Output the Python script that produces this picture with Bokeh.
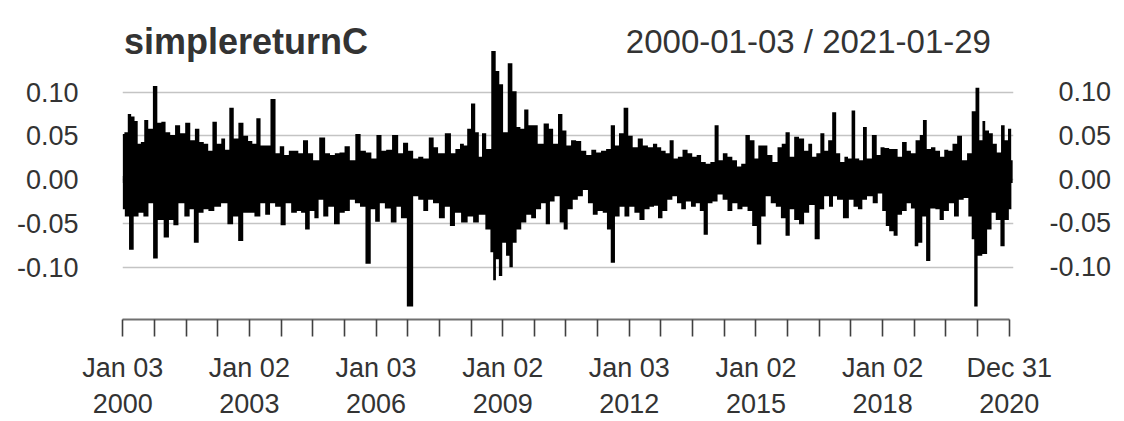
import numpy as np
from bokeh.plotting import figure
from bokeh.models import (Range1d, FixedTicker, PrintfTickFormatter, Label, LinearAxis)
from bokeh.embed import file_html
from bokeh.resources import INLINE

# ---------------- data ----------------
# upper envelope of the daily simple returns (decimal year, value)
up_t = [2000.00, 2000.08, 2000.16, 2000.24, 2000.32, 2000.39, 2000.47, 2000.55, 2000.66, 2000.77,
        2000.87, 2000.96, 2001.07, 2001.18, 2001.30, 2001.42, 2001.54, 2001.66, 2001.76, 2001.87,
        2001.97, 2002.08, 2002.17, 2002.29, 2002.38, 2002.47, 2002.58, 2002.68, 2002.80, 2002.92,
        2003.02, 2003.12, 2003.21, 2003.32, 2003.43, 2003.57, 2003.67, 2003.77, 2003.88, 2003.99,
        2004.11, 2004.21, 2004.33, 2004.45, 2004.57, 2004.74, 2004.85, 2004.97, 2005.08, 2005.19,
        2005.32, 2005.44, 2005.58, 2005.69, 2005.83, 2005.95, 2006.07, 2006.19, 2006.29, 2006.47,
        2006.58, 2006.70, 2006.82, 2006.94, 2007.06, 2007.18, 2007.32, 2007.41, 2007.53, 2007.73,
        2007.82, 2007.94, 2008.04, 2008.12, 2008.20, 2008.30, 2008.40, 2008.47, 2008.55, 2008.67,
        2008.79, 2008.88, 2008.96, 2009.06, 2009.18, 2009.28, 2009.38, 2009.46, 2009.56, 2009.66,
        2009.77, 2009.89, 2010.05, 2010.14, 2010.25, 2010.37, 2010.46, 2010.56, 2010.68, 2010.80,
        2010.92, 2011.04, 2011.16, 2011.27, 2011.39, 2011.51, 2011.61, 2011.71, 2011.80, 2011.93,
        2012.02, 2012.14, 2012.26, 2012.38, 2012.50, 2012.62, 2012.70, 2012.81, 2012.91, 2013.00,
        2013.10, 2013.20, 2013.32, 2013.44, 2013.54, 2013.65, 2013.75, 2013.87, 2013.97, 2014.07,
        2014.16, 2014.27, 2014.38, 2014.50, 2014.60, 2014.70, 2014.80, 2014.91, 2015.02, 2015.09,
        2015.21, 2015.33, 2015.45, 2015.57, 2015.65, 2015.75, 2015.85, 2015.96, 2016.08, 2016.20,
        2016.28, 2016.38, 2016.48, 2016.57, 2016.67, 2016.75, 2016.86, 2016.94, 2017.05, 2017.14,
        2017.22, 2017.31, 2017.39, 2017.50, 2017.57, 2017.68, 2017.81, 2017.91, 2017.99, 2018.10,
        2018.21, 2018.31, 2018.40, 2018.52, 2018.62, 2018.72, 2018.84, 2018.92, 2018.99, 2019.10,
        2019.19, 2019.31, 2019.41, 2019.51, 2019.60, 2019.71, 2019.82, 2019.94, 2020.06, 2020.16,
        2020.24, 2020.34, 2020.39, 2020.47, 2020.57, 2020.65, 2020.76, 2020.85, 2020.93, 2021.01,
        2021.08]
up_v = [0.052, 0.054, 0.075, 0.072, 0.067, 0.041, 0.043, 0.068, 0.058, 0.107,
        0.065, 0.066, 0.054, 0.051, 0.062, 0.053, 0.065, 0.045, 0.058, 0.043,
        0.041, 0.033, 0.066, 0.041, 0.047, 0.034, 0.082, 0.047, 0.065, 0.050,
        0.044, 0.041, 0.070, 0.039, 0.039, 0.092, 0.030, 0.038, 0.028, 0.033,
        0.033, 0.030, 0.045, 0.030, 0.022, 0.048, 0.030, 0.028, 0.030, 0.031,
        0.038, 0.022, 0.052, 0.033, 0.031, 0.024, 0.051, 0.033, 0.034, 0.051,
        0.030, 0.042, 0.033, 0.024, 0.026, 0.024, 0.048, 0.037, 0.030, 0.053,
        0.030, 0.035, 0.041, 0.039, 0.058, 0.087, 0.054, 0.026, 0.053, 0.035,
        0.147, 0.124, 0.109, 0.054, 0.133, 0.101, 0.060, 0.058, 0.080, 0.062,
        0.062, 0.041, 0.064, 0.058, 0.041, 0.075, 0.056, 0.039, 0.045, 0.044,
        0.033, 0.028, 0.034, 0.031, 0.033, 0.035, 0.062, 0.039, 0.053, 0.082,
        0.050, 0.037, 0.047, 0.039, 0.037, 0.041, 0.037, 0.033, 0.030, 0.045,
        0.024, 0.026, 0.034, 0.030, 0.026, 0.028, 0.020, 0.018, 0.020, 0.062,
        0.022, 0.030, 0.026, 0.022, 0.015, 0.018, 0.051, 0.045, 0.024, 0.039,
        0.039, 0.028, 0.020, 0.037, 0.041, 0.054, 0.026, 0.049, 0.047, 0.033,
        0.041, 0.026, 0.030, 0.053, 0.033, 0.045, 0.077, 0.030, 0.020, 0.026,
        0.024, 0.079, 0.024, 0.022, 0.060, 0.024, 0.051, 0.028, 0.037, 0.036,
        0.035, 0.035, 0.026, 0.043, 0.033, 0.030, 0.045, 0.051, 0.068, 0.035,
        0.037, 0.033, 0.026, 0.034, 0.033, 0.041, 0.050, 0.022, 0.030, 0.078,
        0.105, 0.045, 0.067, 0.056, 0.053, 0.041, 0.031, 0.062, 0.045, 0.058,
        0.022]

# lower envelope of the daily simple returns (decimal year, value)
dn_t = [2000.00, 2000.10, 2000.20, 2000.32, 2000.43, 2000.55, 2000.67, 2000.77, 2000.89, 2001.05,
        2001.14, 2001.26, 2001.38, 2001.54, 2001.63, 2001.74, 2001.86, 2001.97, 2002.09, 2002.25,
        2002.41, 2002.55, 2002.68, 2002.79, 2002.92, 2003.04, 2003.20, 2003.32, 2003.43, 2003.55,
        2003.67, 2003.81, 2003.91, 2004.07, 2004.18, 2004.27, 2004.37, 2004.49, 2004.59, 2004.69,
        2004.81, 2004.93, 2005.08, 2005.20, 2005.32, 2005.44, 2005.56, 2005.68, 2005.82, 2005.93,
        2006.03, 2006.15, 2006.27, 2006.43, 2006.54, 2006.64, 2006.82, 2006.94, 2007.06, 2007.18,
        2007.29, 2007.41, 2007.57, 2007.69, 2007.81, 2007.93, 2008.10, 2008.24, 2008.36, 2008.51,
        2008.67, 2008.75, 2008.80, 2008.88, 2008.94, 2009.04, 2009.12, 2009.20, 2009.28, 2009.38,
        2009.50, 2009.62, 2009.73, 2009.85, 2009.97, 2010.07, 2010.17, 2010.29, 2010.41, 2010.48,
        2010.60, 2010.72, 2010.84, 2010.96, 2011.08, 2011.19, 2011.31, 2011.43, 2011.51, 2011.61,
        2011.71, 2011.83, 2011.94, 2012.06, 2012.18, 2012.30, 2012.42, 2012.54, 2012.63, 2012.73,
        2012.84, 2012.96, 2013.08, 2013.18, 2013.28, 2013.40, 2013.52, 2013.63, 2013.71, 2013.81,
        2013.91, 2014.03, 2014.15, 2014.27, 2014.38, 2014.50, 2014.62, 2014.74, 2014.86, 2014.96,
        2015.08, 2015.17, 2015.29, 2015.41, 2015.53, 2015.65, 2015.75, 2015.85, 2015.96, 2016.08,
        2016.20, 2016.32, 2016.46, 2016.56, 2016.67, 2016.79, 2016.86, 2016.98, 2017.14, 2017.26,
        2017.36, 2017.47, 2017.57, 2017.69, 2017.84, 2017.93, 2018.05, 2018.10, 2018.21, 2018.31,
        2018.40, 2018.52, 2018.62, 2018.72, 2018.80, 2018.89, 2018.99, 2019.07, 2019.19, 2019.31,
        2019.39, 2019.51, 2019.63, 2019.75, 2019.86, 2019.98, 2020.08, 2020.14, 2020.20, 2020.30,
        2020.42, 2020.53, 2020.63, 2020.73, 2020.85, 2020.93, 2021.05]
dn_v = [-0.034, -0.042, -0.080, -0.042, -0.038, -0.042, -0.027, -0.090, -0.046, -0.066,
        -0.046, -0.052, -0.027, -0.042, -0.034, -0.072, -0.038, -0.034, -0.036, -0.031,
        -0.027, -0.051, -0.042, -0.070, -0.038, -0.038, -0.042, -0.027, -0.040, -0.027,
        -0.031, -0.052, -0.027, -0.038, -0.036, -0.038, -0.057, -0.036, -0.044, -0.023,
        -0.042, -0.031, -0.051, -0.038, -0.036, -0.023, -0.027, -0.031, -0.096, -0.034,
        -0.048, -0.027, -0.033, -0.049, -0.031, -0.044, -0.145, -0.019, -0.023, -0.036,
        -0.023, -0.027, -0.044, -0.031, -0.053, -0.038, -0.049, -0.042, -0.049, -0.040,
        -0.057, -0.083, -0.115, -0.091, -0.110, -0.072, -0.087, -0.100, -0.072, -0.057,
        -0.049, -0.040, -0.044, -0.034, -0.027, -0.051, -0.025, -0.019, -0.049, -0.057,
        -0.034, -0.023, -0.019, -0.012, -0.027, -0.040, -0.036, -0.038, -0.057, -0.095,
        -0.042, -0.031, -0.042, -0.031, -0.038, -0.046, -0.034, -0.031, -0.030, -0.044,
        -0.036, -0.023, -0.019, -0.027, -0.034, -0.025, -0.031, -0.027, -0.036, -0.063,
        -0.027, -0.025, -0.017, -0.023, -0.036, -0.027, -0.034, -0.031, -0.036, -0.053,
        -0.074, -0.042, -0.019, -0.027, -0.031, -0.044, -0.064, -0.034, -0.046, -0.051,
        -0.038, -0.029, -0.068, -0.034, -0.019, -0.031, -0.019, -0.023, -0.044, -0.023,
        -0.031, -0.034, -0.023, -0.019, -0.027, -0.016, -0.036, -0.053, -0.059, -0.064,
        -0.040, -0.036, -0.027, -0.033, -0.076, -0.072, -0.042, -0.093, -0.033, -0.034,
        -0.046, -0.036, -0.027, -0.042, -0.023, -0.021, -0.042, -0.068, -0.145, -0.087,
        -0.085, -0.057, -0.038, -0.046, -0.076, -0.046, -0.034]

# axis ticks and labels
x_ticks = [2000 + 0.75 * k for k in range(29)]          # one tick every 9 months
x_lab_pos = [2000, 2003, 2006, 2009, 2012, 2015, 2018, 2021]
x_lab_day = ["Jan 03", "Jan 02", "Jan 03", "Jan 02", "Jan 03", "Jan 02", "Jan 02", "Dec 31"]
x_lab_year = ["2000", "2003", "2006", "2009", "2012", "2015", "2018", "2020"]
y_ticks = [-0.10, -0.05, 0.00, 0.05, 0.10]

title_left = "simplereturnC"
title_right = "2000-01-03 / 2021-01-29"

# ---------------- figure ----------------
FONT = "Liberation Sans"
TXT = "#333333"
FS = "27px"

p = figure(width=1124, height=421, output_backend="svg", toolbar_location=None,
           x_range=Range1d(1999.995, 2021.10), y_range=Range1d(-0.15978, 0.20456),
           min_border_left=122, min_border_right=111, min_border_top=0,
           min_border_bottom=98)
p.outline_line_color = None
p.xgrid.visible = False
p.ygrid.ticker = FixedTicker(ticks=y_ticks)
p.ygrid.grid_line_color = "#c4c4c4"
p.ygrid.grid_line_width = 1.6

# bottom date axis
xa = p.xaxis[0]
xa.ticker = FixedTicker(ticks=x_ticks, minor_ticks=[])
xa.bounds = (x_ticks[0], x_ticks[-1])
overrides = {t: "" for t in x_ticks}
for pos, d, y in zip(x_lab_pos, x_lab_day, x_lab_year):
    overrides[float(pos)] = d + "\n" + y
xa.major_label_overrides = overrides
xa.major_label_text_font = FONT
xa.major_label_text_font_size = FS
xa.major_label_text_color = TXT
xa.major_label_text_line_height = 1.2
xa.major_label_standoff = 16
xa.major_tick_in = 0
xa.major_tick_out = 17
xa.minor_tick_in = 0
xa.minor_tick_out = 0
xa.axis_line_color = "#707070"
xa.axis_line_width = 2
xa.major_tick_line_color = "#404040"
xa.major_tick_line_width = 1.6


def style_value_axis(ax, standoff):
    ax.ticker = FixedTicker(ticks=y_ticks, minor_ticks=[])
    ax.axis_line_color = None
    ax.major_tick_line_color = None
    ax.minor_tick_line_color = None
    ax.major_tick_in = 0
    ax.major_tick_out = 0
    ax.minor_tick_in = 0
    ax.minor_tick_out = 0
    ax.major_label_standoff = standoff
    ax.major_label_text_font = FONT
    ax.major_label_text_font_size = FS
    ax.major_label_text_color = TXT


ya = p.yaxis[0]
style_value_axis(ya, 44)
ya.formatter = PrintfTickFormatter(format="%.2f")

# right-hand value axis: labels padded so that they line up on the right
ra = LinearAxis()
style_value_axis(ra, 36)
ra.major_label_overrides = {t: (("" if t < 0 else "\u2004") + "%.2f" % t) for t in y_ticks}
p.add_layout(ra, "right")

# series (upper and lower envelope of the return series)
p.varea_step(x=up_t, y1=[-0.004] * len(up_t), y2=up_v, step_mode="center",
             fill_color="black")
p.varea_step(x=dn_t, y1=dn_v, y2=[0.004] * len(dn_t), step_mode="center",
             fill_color="black")

# titles (inside the frame, above the data)
p.add_layout(Label(x=2000.03, y=0.1583, text=title_left,
                   text_font=FONT, text_font_style="bold", text_font_size="36px",
                   text_color=TXT, text_align="left", text_baseline="alphabetic"))
p.add_layout(Label(x=2020.566, y=0.1583, text=title_right,
                   text_font=FONT, text_font_size="33px", text_color=TXT,
                   text_align="right", text_baseline="alphabetic"))

open("out.html", "w").write(file_html(p, INLINE))
